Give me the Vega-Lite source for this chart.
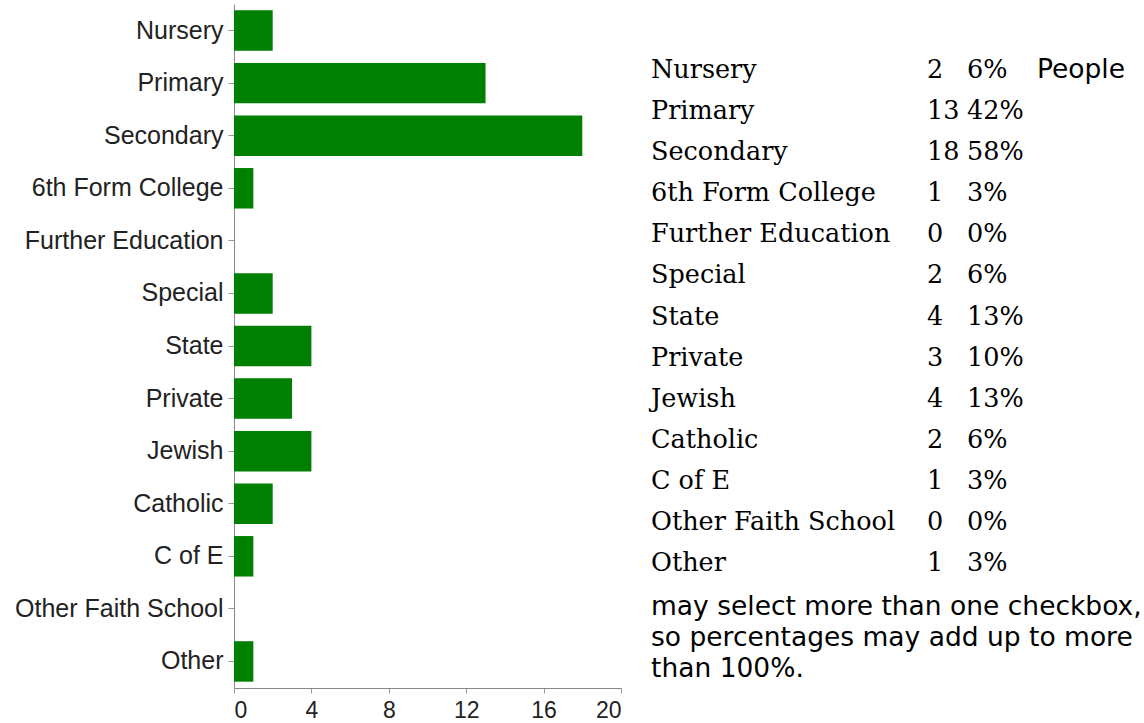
{
  "$schema": "https://vega.github.io/schema/vega-lite/v6.json",
  "background": "white",
  "padding": {"left": 14, "top": 4, "right": 0, "bottom": 0},
  "data": {
    "values": [
      {"category": "Nursery", "count": 2, "pct": "6%"},
      {"category": "Primary", "count": 13, "pct": "42%"},
      {"category": "Secondary", "count": 18, "pct": "58%"},
      {"category": "6th Form College", "count": 1, "pct": "3%"},
      {"category": "Further Education", "count": 0, "pct": "0%"},
      {"category": "Special", "count": 2, "pct": "6%"},
      {"category": "State", "count": 4, "pct": "13%"},
      {"category": "Private", "count": 3, "pct": "10%"},
      {"category": "Jewish", "count": 4, "pct": "13%"},
      {"category": "Catholic", "count": 2, "pct": "6%"},
      {"category": "C of E", "count": 1, "pct": "3%"},
      {"category": "Other Faith School", "count": 0, "pct": "0%"},
      {"category": "Other", "count": 1, "pct": "3%"}
    ]
  },
  "spacing": 29,
  "hconcat": [
    {
      "width": 387,
      "height": 684,
      "mark": {"type": "bar", "color": "#008000"},
      "encoding": {
        "y": {
          "field": "category", "type": "nominal", "sort": null,
          "scale": {"paddingInner": 0.23, "paddingOuter": 0.12},
          "axis": {"title": null, "labelFont": "Liberation Sans", "labelFontSize": 25, "labelLimit": 0, "labelColor": "#222", "tickSize": 6, "labelPadding": 5, "domainColor": "#888", "tickColor": "#999", "grid": false}
        },
        "x": {
          "field": "count", "type": "quantitative",
          "scale": {"domain": [0, 20], "nice": false},
          "axis": {"title": null, "values": [0, 4, 8, 12, 16, 20], "labelFont": "Liberation Sans", "labelFontSize": 23, "labelColor": "#222", "tickSize": 5, "labelPadding": 6, "domainColor": "#888", "tickColor": "#999", "grid": false}
        }
      }
    },
    {
      "width": 490,
      "height": 559,
      "title": {
        "text": ["may select more than one checkbox,", "so percentages may add up to more", "than 100%."],
        "orient": "bottom", "anchor": "start", "font": "DejaVu Sans", "fontSize": 26.5,
        "fontWeight": "normal", "lineHeight": 31, "offset": 17, "color": "black", "limit": 0
      },
      "layer": [
        {
          "mark": {"type": "text", "align": "left", "baseline": "middle", "font": "DejaVu Serif", "fontSize": 25.5, "color": "black"},
          "encoding": {
            "y": {"field": "category", "type": "nominal", "sort": null, "scale": {"padding": 0.8035, "align": 1}, "axis": null},
            "x": {"value": 0},
            "text": {"field": "category"}
          }
        },
        {
          "mark": {"type": "text", "align": "left", "baseline": "middle", "font": "DejaVu Serif", "fontSize": 25.5, "color": "black"},
          "encoding": {
            "y": {"field": "category", "type": "nominal", "sort": null, "axis": null},
            "x": {"value": 276},
            "text": {"field": "count"}
          }
        },
        {
          "mark": {"type": "text", "align": "left", "baseline": "middle", "font": "DejaVu Serif", "fontSize": 25.5, "color": "black"},
          "encoding": {
            "y": {"field": "category", "type": "nominal", "sort": null, "axis": null},
            "x": {"value": 316},
            "text": {"field": "pct"}
          }
        },
        {
          "transform": [{"filter": "datum.category === 'Nursery'"}],
          "mark": {"type": "text", "align": "left", "baseline": "middle", "font": "DejaVu Sans", "fontSize": 26.5, "color": "black"},
          "encoding": {
            "y": {"field": "category", "type": "nominal", "sort": null, "axis": null},
            "x": {"value": 386},
            "text": {"value": "People"}
          }
        }
      ]
    }
  ],
  "config": {"view": {"stroke": null}}
}
